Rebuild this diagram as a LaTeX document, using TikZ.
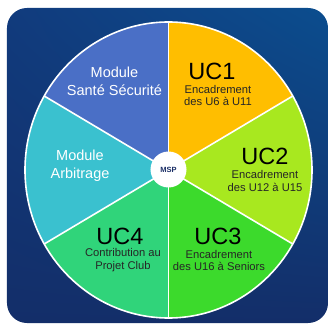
\documentclass[tikz,border=0pt]{standalone}
\usepackage{fontspec}
\setmainfont{Liberation Sans}
\usetikzlibrary{positioning,shadings}
\definecolor{tiletop}{HTML}{0B4D8E}
\definecolor{tileleft}{HTML}{113B7D}
\definecolor{tilelow}{HTML}{132E69}
\definecolor{secublue}{HTML}{4A6FC6}
\definecolor{ucgold}{HTML}{FFBE00}
\definecolor{uclime}{HTML}{A8E81F}
\definecolor{ucgreen}{HTML}{3CDA2C}
\definecolor{ucmint}{HTML}{30D47A}
\definecolor{arbcyan}{HTML}{3AC1CF}
\definecolor{mspnavy}{HTML}{1B2F66}
\def\rx{143.5}
\def\ry{148}

\begin{document}
\begin{tikzpicture}[x=1pt, y=1pt,
  uctitle/.style={font=\fontsize{23.5}{26}\selectfont, text=black},
  ucsub/.style={font=\fontsize{11.2}{12.8}\selectfont, align=center, text=black!85},
  modtext/.style={font=\fontsize{14.5}{18}\selectfont, align=center, text=white},
  sep/.style={draw=white, line width=1.6pt}]
  \useasboundingbox (-168.5,-154) rectangle (160.5,170);
  % Background tile
  \shade[rounded corners=20pt, upper left=tileleft, upper right=tiletop,
    lower left=tilelow, lower right=tilelow] (-161.5,-153) rectangle (159.5,162);
  % Wheel sectors
  \fill[ucgold]   (0,0) -- (30:{\rx} and {\ry})  arc[start angle=30,  end angle=90,  x radius=\rx, y radius=\ry] -- cycle;
  \fill[secublue] (0,0) -- (90:{\rx} and {\ry})  arc[start angle=90,  end angle=150, x radius=\rx, y radius=\ry] -- cycle;
  \fill[arbcyan]  (0,0) -- (150:{\rx} and {\ry}) arc[start angle=150, end angle=210, x radius=\rx, y radius=\ry] -- cycle;
  \fill[ucmint]   (0,0) -- (210:{\rx} and {\ry}) arc[start angle=210, end angle=270, x radius=\rx, y radius=\ry] -- cycle;
  \fill[ucgreen]  (0,0) -- (270:{\rx} and {\ry}) arc[start angle=270, end angle=330, x radius=\rx, y radius=\ry] -- cycle;
  \fill[uclime]   (0,0) -- (-30:{\rx} and {\ry}) arc[start angle=-30, end angle=30,  x radius=\rx, y radius=\ry] -- cycle;
  % White dividers and rim
  \foreach \a in {30,90,...,330}
    \draw[sep] (0,0) -- (\a:{\rx} and {\ry});
  \draw[sep] (0,0) ellipse[x radius=\rx, y radius=\ry];
  % Hub
  \node[circle, fill=white, minimum size=36pt, inner sep=0pt, text=mspnavy,
    font=\bfseries\fontsize{7.5}{8}\selectfont] (msp) at (0,0.5) {MSP};
  % Modules
  \node[modtext] (sante) at (-54,89) {Module\\Santé Sécurité};
  \node[modtext] (arbitrage) at (-88.5,4) {Module\\Arbitrage};
  % Unités
  \node[uctitle] (uc1) at (43.5,99) {UC1};
  \node[ucsub] (uc1sub) at (49.5,74.5) {Encadrement\\des U6 à U11};
  \node[uctitle] (uc2) at (96.5,14) {UC2};
  \node[ucsub] (uc2sub) at (96.5,-11) {Encadrement\\des U12 à U15};
  \node[uctitle] (uc3) at (49.5,-66) {UC3};
  \node[ucsub] (uc3sub) at (50.5,-90.5) {Encadrement\\des U16 à Seniors};
  \node[uctitle] (uc4) at (-48.5,-66) {UC4};
  \node[ucsub] (uc4sub) at (-45.5,-90.5) {Contribution au\\Projet Club};
\end{tikzpicture}
\end{document}
